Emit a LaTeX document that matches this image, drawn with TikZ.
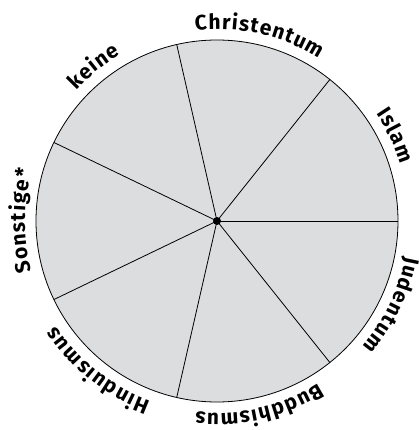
\documentclass[tikz,border=0pt]{standalone}
\usepackage{fontspec}
\setsansfont{Fira Sans}
\usepackage{xcolor}
\usetikzlibrary{decorations.text}
\definecolor{wheelgray}{RGB}{220,221,223}
\newcommand{\labfont}{\sffamily\bfseries\fontsize{21}{25}\selectfont}
\tikzset{
	wheel/.style={draw, fill=wheelgray, line width=0.8pt},
	spoke/.style={draw, line width=0.8pt},
	hub/.style={fill=black},
	curvlbl/.style={decorate, decoration={text effects along path, text={#1},
		text align=center, text effects/.cd, text along path,
		characters={font=\labfont, inner sep=0pt, anchor=base},
		character widths={font=\labfont, inner sep=0pt, inner xsep=0.55pt}}},
}

\begin{document}
\begin{tikzpicture}[x=1pt, y=1pt]
	\useasboundingbox (-217,-209) rectangle (202,221);
	\coordinate (c) at (0,0);
	\draw[wheel] (c) circle[radius=181pt];
	% spokes, seven equal sectors
	\foreach \i in {0,...,6} {
		\coordinate (s\i) at (\i*360/7:181pt);
		\draw[spoke] (c) -- (s\i);
	}
	\fill[hub] (c) circle[radius=4pt];
	% labels along the rim, clockwise
	\path[curvlbl=Islam] (85.71:192pt) arc[start angle=85.71, end angle=-34.29, radius=192pt];
	\path[curvlbl=Christentum] (137.14:192pt) arc[start angle=137.14, end angle=17.14, radius=192pt];
	\path[curvlbl=keine] (188.57:192pt) arc[start angle=188.57, end angle=68.57, radius=192pt];
	\path[curvlbl=Sonstige*] (240:192pt) arc[start angle=240, end angle=120, radius=192pt];
	\path[curvlbl=Hinduismus] (291.43:192pt) arc[start angle=291.43, end angle=171.43, radius=192pt];
	\path[curvlbl=Buddhismus] (342.86:192pt) arc[start angle=342.86, end angle=222.86, radius=192pt];
	\path[curvlbl=Judentum] (394.29:192pt) arc[start angle=394.29, end angle=274.29, radius=192pt];
\end{tikzpicture}
\end{document}
